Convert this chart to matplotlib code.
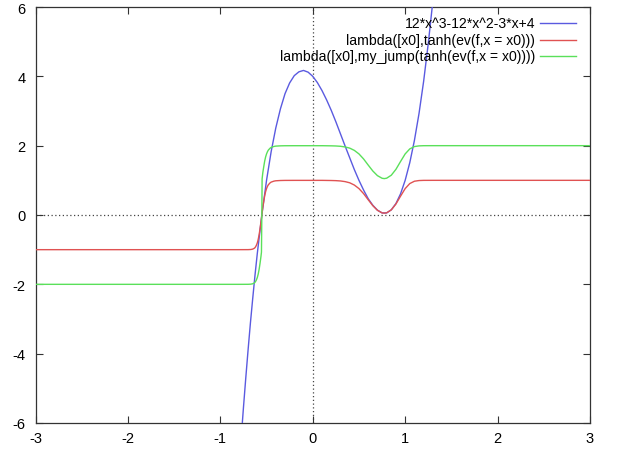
import matplotlib
matplotlib.use("Agg")
import matplotlib.pyplot as plt

plt.rcParams["font.family"] = ["Liberation Sans", "DejaVu Sans"]

# values
poly_x = [-0.77, -0.76, -0.75, -0.725, -0.7, -0.675, -0.65, -0.625, -0.6, -0.55, -0.5,
          -0.45, -0.4, -0.35, -0.3, -0.25, -0.2, -0.15, -0.1, -0.05, 0.0, 0.05, 0.1,
          0.15, 0.2, 0.25, 0.3, 0.35, 0.4, 0.45, 0.5, 0.55, 0.6, 0.65, 0.7, 0.75, 0.8,
          0.85, 0.9, 0.95, 1.0, 1.05, 1.1, 1.15, 1.2, 1.25, 1.3]
poly_y = [-6.28, -5.92, -5.56, -4.71, -3.90, -3.13, -2.42, -1.74, -1.11, 0.02, 1.00,
          1.83, 2.51, 3.06, 3.50, 3.81, 4.02, 4.13, 4.17, 4.12, 4.00, 3.82, 3.59,
          3.32, 3.02, 2.69, 2.34, 1.99, 1.65, 1.31, 1.00, 0.72, 0.47, 0.28, 0.14, 0.06,
          0.06, 0.15, 0.33, 0.61, 1.00, 1.51, 2.15, 2.93, 3.86, 4.95, 6.18]

step_x = [-3.0, -1.0, -0.8, -0.7, -0.67, -0.65, -0.63, -0.62, -0.61, -0.6, -0.59, -0.58,
          -0.57, -0.56, -0.555, -0.551, -0.548, -0.54, -0.53, -0.52, -0.51, -0.5, -0.49,
          -0.48, -0.46, -0.45, -0.42, -0.4, -0.35, -0.3, -0.2, 0.0, 0.1, 0.2, 0.25, 0.3,
          0.35, 0.4, 0.45, 0.5, 0.55, 0.6, 0.65, 0.7, 0.75, 0.774, 0.8, 0.85, 0.9, 0.95,
          1.0, 1.05, 1.1, 1.15, 1.2, 1.3, 1.5, 3.0]
red_y = [-1.0, -1.0, -1.0, -0.999, -0.995, -0.984, -0.956, -0.924, -0.874, -0.805,
         -0.702, -0.564, -0.388, -0.188, -0.082, 0.0, 0.066, 0.227, 0.397, 0.557, 0.675,
         0.762, 0.827, 0.874, 0.931, 0.949, 0.977, 0.987, 0.995, 0.998, 0.999, 0.999,
         0.999, 0.995, 0.991, 0.982, 0.963, 0.929, 0.864, 0.762, 0.617, 0.440, 0.269,
         0.135, 0.062, 0.053, 0.064, 0.148, 0.317, 0.543, 0.762, 0.907, 0.974, 0.994,
         0.999, 1.0, 1.0, 1.0]
green_y = [-2.0, -2.0, -2.0, -1.999, -1.995, -1.984, -1.956, -1.924, -1.874, -1.805,
           -1.702, -1.564, -1.388, -1.188, -1.07, 0.0, 1.04, 1.227, 1.397, 1.557, 1.675,
           1.762, 1.827, 1.874, 1.931, 1.949, 1.977, 1.987, 1.995, 1.998, 1.999, 1.999,
           1.999, 1.995, 1.991, 1.982, 1.963, 1.929, 1.864, 1.762, 1.617, 1.440, 1.269,
           1.135, 1.060, 1.050, 1.062, 1.148, 1.317, 1.543, 1.762, 1.907, 1.974, 1.994,
           1.999, 2.0, 2.0, 2.0]

labels = ["12*x^3-12*x^2-3*x+4",
          "lambda([x0],tanh(ev(f,x = x0)))",
          "lambda([x0],my_jump(tanh(ev(f,x = x0))))"]
colors = ["#5a5ae0", "#e05252", "#5ae05a"]

x_ticks = [-3, -2, -1, 0, 1, 2, 3]
y_ticks = [-6, -4, -2, 0, 2, 4, 6]

fig = plt.figure(figsize=(6.3, 4.56), dpi=100)
ax = fig.add_axes([35.5 / 630, 32 / 456, 554.5 / 630, 416 / 456])

ax.axhline(0, color="#444444", lw=0.9, ls=(0, (1, 2)), zorder=1)
ax.axvline(0, color="#444444", lw=0.9, ls=(0, (1, 2)), zorder=1)

series = [(poly_x, poly_y), (step_x, red_y), (step_x, green_y)]
for (xs, ys), c in zip(series, colors):
    ax.plot(xs, ys, color=c, lw=1.0, zorder=3)

ax.set_xlim(-3, 3)
ax.set_ylim(-6, 6)
ax.set_xticks(x_ticks)
ax.set_yticks(y_ticks)
ax.set_xticklabels([str(v) for v in x_ticks])
ax.set_yticklabels([str(v) for v in y_ticks])
ax.tick_params(direction="in", length=5, width=0.8, color="#333333",
               top=True, right=True, labelsize=10.5)
ax.tick_params(axis="x", pad=6)
ax.tick_params(axis="y", pad=7)
for s in ax.spines.values():
    s.set_color("#333333")
    s.set_linewidth(0.9)

# gnuplot-style key: right-aligned text, sample line on the right
key_y = [24, 40.5, 57]
for lab, c, ky in zip(labels, colors, key_y):
    yf = 1 - (ky - 8) / 416
    ax.text((535 - 35.5) / 554.5, yf, lab, transform=ax.transAxes,
            ha="right", va="center", fontsize=10.1)
    ax.plot([(540 - 35.5) / 554.5, (576 - 35.5) / 554.5], [yf, yf],
            transform=ax.transAxes, color=c, lw=1.0)

fig.savefig("out.png", dpi=100)
